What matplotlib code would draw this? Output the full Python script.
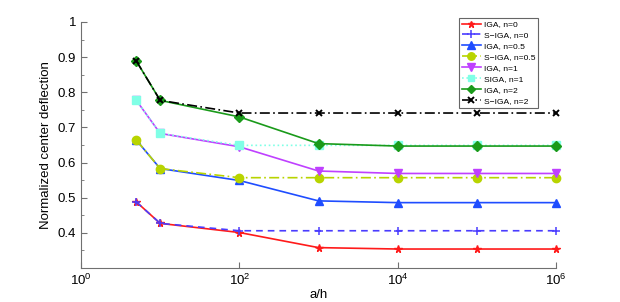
"""
plot.py - normalized center deflection vs a/h (IGA vs S-IGA).
"""

import matplotlib
matplotlib.use("Agg")
import matplotlib.pyplot as plt
from matplotlib.ticker import FixedLocator, NullFormatter

plt.rcParams["font.family"] = ["Liberation Sans", "DejaVu Sans"]
plt.rcParams["mathtext.fontset"] = "custom"
plt.rcParams["mathtext.rm"] = "Liberation Sans"

# ─── Data ─────────────────────────────────────────────────────────────────────

a_over_h = [5, 10, 1e2, 1e3, 1e4, 1e5, 1e6]

iga_n0    = [0.488, 0.427, 0.401, 0.358, 0.354, 0.354, 0.354]
siga_n0   = [0.488, 0.427, 0.406, 0.406, 0.406, 0.406, 0.406]
iga_n05   = [0.664, 0.583, 0.549, 0.491, 0.486, 0.486, 0.486]
siga_n05  = [0.664, 0.583, 0.557, 0.557, 0.557, 0.557, 0.557]
iga_n1    = [0.777, 0.683, 0.645, 0.576, 0.569, 0.569, 0.569]
siga_n1   = [0.777, 0.683, 0.649, 0.649, 0.649, 0.649, 0.649]
iga_n2    = [0.889, 0.777, 0.730, 0.654, 0.647, 0.647, 0.647]
siga_n2   = [0.889, 0.777, 0.741, 0.741, 0.741, 0.741, 0.741]

labels = ["IGA, n=0", "S\u2212IGA, n=0", "IGA, n=0.5", "S\u2212IGA, n=0.5",
          "IGA, n=1", "SIGA, n=1", "IGA, n=2", "S\u2212IGA, n=2"]

# ─── Plot ─────────────────────────────────────────────────────────────────────

fig = plt.figure(figsize=(6.2, 3.02), dpi=100)
ax = fig.add_axes([81 / 620, 1 - 268 / 302, 475 / 620, 246 / 302])

common = dict(lw=1.2, clip_on=False)
ax.plot(a_over_h, iga_n0, color="#ff1a1a", ls="-", marker="*",
        ms=5.5, label=labels[0], **common)
ax.plot(a_over_h, siga_n0, color="#4a3cff", ls=(0, (4, 3)), marker="+",
        ms=6, mew=1.1, label=labels[1], **common)
ax.plot(a_over_h, iga_n05, color="#1f4dff", ls="-", marker="^",
        ms=6, label=labels[2], **common)
ax.plot(a_over_h, siga_n05, color="#b8d400", ls=(0, (6, 2, 1, 2)),
        marker="o", ms=6, label=labels[3], **common)
ax.plot(a_over_h, iga_n1, color="#bf40ff", ls="-", marker="v",
        ms=6, label=labels[4], **common)
ax.plot(a_over_h, siga_n1, color="#80ffe6", ls=":", marker="s",
        ms=5.5, label=labels[5], **common)
ax.plot(a_over_h, iga_n2, color="#1a9a1a", ls="-", marker="D",
        ms=5, label=labels[6], **common)
ax.plot(a_over_h, siga_n2, color="black", ls=(0, (6, 2, 1, 2)),
        marker="x", ms=4.5, mew=1.4, label=labels[7], **common)

ax.set_xscale("log")
ax.set_xlim(1, 1e6)
ax.set_ylim(0.3, 1.0)
ax.xaxis.set_major_locator(FixedLocator([1, 1e2, 1e4, 1e6]))
ax.xaxis.set_minor_locator(FixedLocator([]))
ax.set_xticklabels([r"$10^0$", r"$10^2$", r"$10^4$", r"$10^6$"])
ax.set_yticks([0.4, 0.5, 0.6, 0.7, 0.8, 0.9, 1.0])
ax.set_yticklabels(["0.4", "0.5", "0.6", "0.7", "0.8", "0.9", "1"])
ax.yaxis.set_minor_locator(FixedLocator([0.35, 0.45, 0.55, 0.65, 0.75, 0.85, 0.95]))
ax.yaxis.set_minor_formatter(NullFormatter())

for side in ("top", "right"):
    ax.spines[side].set_visible(False)
for side in ("left", "bottom"):
    ax.spines[side].set_color("#707070")
ax.tick_params(which="both", direction="in", colors="#707070",
               labelcolor="black", labelsize=9.5)
ax.tick_params(which="major", length=4)
ax.tick_params(which="minor", length=2.5)

ax.set_xlabel("a/h", fontsize=9.5, labelpad=1)
ax.set_ylabel("Normalized center deflection", fontsize=9.5, labelpad=4)

leg = ax.legend(loc="upper left", bbox_to_anchor=(459 / 620, 1 - 18 / 302),
                bbox_transform=fig.transFigure, fontsize=6.1, frameon=True,
                fancybox=False, handlelength=2.3, handletextpad=0.3,
                labelspacing=0.36, borderpad=0.3, borderaxespad=0,
                markerscale=0.9)
leg.get_frame().set_edgecolor("#404040")
leg.get_frame().set_linewidth(0.8)

plt.savefig("out.png", dpi=100)
plt.close(fig)
